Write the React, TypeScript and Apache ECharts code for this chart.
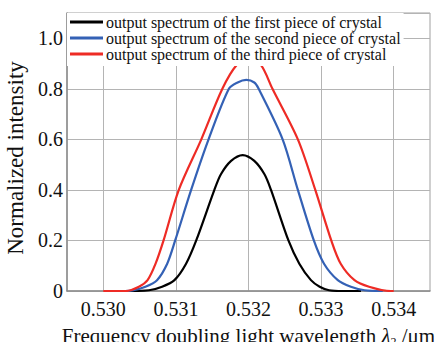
import React, { useEffect, useRef } from "react";
import * as echarts from "echarts";

const seriesNames = [
  "output spectrum of the first piece of crystal",
  "output spectrum of the second piece of crystal",
  "output spectrum of the third piece of crystal",
];

const xTicks = [0.53, 0.531, 0.532, 0.533, 0.534];

const firstX = [0.53035, 0.53063, 0.53081, 0.53098, 0.53114, 0.53128, 0.53153, 0.53162, 0.53176, 0.53192, 0.53208, 0.53222, 0.53231, 0.53255, 0.5327, 0.53286, 0.53298, 0.53311, 0.5333, 0.53355];
const firstY = [0, 0.003, 0.017, 0.043, 0.108, 0.2, 0.4, 0.462, 0.515, 0.538, 0.515, 0.462, 0.4, 0.2, 0.108, 0.043, 0.017, 0.003, 0, 0];

const secondX = [0.5303, 0.5304, 0.53058, 0.53074, 0.53088, 0.53099, 0.53121, 0.53145, 0.53173, 0.53185, 0.53197, 0.53208, 0.53214, 0.53247, 0.53268, 0.5329, 0.53304, 0.53323, 0.53341, 0.5336, 0.53385];
const secondY = [0, 0.002, 0.017, 0.043, 0.108, 0.2, 0.4, 0.6, 0.8, 0.825, 0.835, 0.825, 0.8, 0.6, 0.4, 0.2, 0.108, 0.043, 0.017, 0.003, 0];

const thirdX = [0.53, 0.53031, 0.53049, 0.53061, 0.53072, 0.53083, 0.53104, 0.53135, 0.53164, 0.53184, 0.532, 0.53217, 0.53233, 0.53268, 0.53292, 0.53314, 0.53327, 0.53346, 0.53366, 0.53396, 0.534];
const thirdY = [0, 0, 0.017, 0.043, 0.108, 0.2, 0.4, 0.6, 0.8, 0.895, 0.92, 0.895, 0.8, 0.6, 0.4, 0.2, 0.108, 0.043, 0.017, 0, 0];

const colors = ["#000000", "#3461b5", "#ee2b25"];

const pair = (xs: number[], ys: number[]) => xs.map((x, i) => [x, ys[i]]);

export default function App() {
  const ref = useRef<HTMLDivElement>(null);
  useEffect(() => {
    if (!ref.current) return;
    const chart = echarts.init(ref.current, undefined, { renderer: "svg" });
    const font = "Liberation Serif";
    const datasets = [pair(firstX, firstY), pair(secondX, secondY), pair(thirdX, thirdY)];
    chart.setOption({
      animation: false,
      backgroundColor: "#ffffff",
      textStyle: { fontFamily: font, color: "#111" },
      grid: {
        left: 67,
        right: 17,
        top: 13,
        bottom: 51,
        outerBoundsMode: "none",
        containLabel: false,
        show: true,
        borderColor: "#a0a0a0",
        borderWidth: 1,
      },
      legend: {
        show: true,
        z: 10,
        orient: "vertical",
        left: 67,
        top: 13,
        padding: [1, 3, 4, 3],
        itemGap: 0,
        itemWidth: 33,
        itemHeight: 3,
        icon: "rect",
        backgroundColor: "#ffffff",
        textStyle: {
          fontFamily: font,
          fontSize: 16,
          color: "#111",
          lineHeight: 15,
          padding: [0, 0, 0, -2],
        },
        data: seriesNames,
      },
      xAxis: {
        type: "value",
        min: 0.5295,
        max: 0.5345,
        axisLine: { show: true, lineStyle: { color: "#8c8c8c", width: 1.5 } },
        axisTick: { show: false, customValues: xTicks },
        axisLabel: {
          customValues: xTicks,
          formatter: (v: number) => v.toFixed(3),
          fontFamily: font,
          fontSize: 20,
          color: "#111",
          margin: 8,
        },
        splitLine: { show: true, lineStyle: { color: "#b4b4b4", width: 1 } },
        name: "Frequency doubling light wavelength {l|λ}{s|2} /μm",
        nameLocation: "middle",
        nameGap: 24,
        nameTextStyle: {
          fontFamily: font,
          fontSize: 21,
          lineHeight: 24,
          color: "#111",
          rich: {
            l: { fontFamily: font, fontSize: 21, lineHeight: 24, fontStyle: "italic", color: "#111" },
            s: { fontFamily: font, fontSize: 12, lineHeight: 24, color: "#111", verticalAlign: "bottom" },
          },
        },
      },
      yAxis: {
        type: "value",
        min: 0,
        max: 1.1,
        interval: 0.2,
        axisLine: { show: true, lineStyle: { color: "#8c8c8c", width: 1.5 } },
        axisTick: { show: false },
        axisLabel: {
          showMaxLabel: false,
          formatter: (v: number) => (v === 0 ? "0" : v.toFixed(1)),
          fontFamily: font,
          fontSize: 20,
          color: "#111",
          margin: 4,
        },
        splitLine: { show: true, lineStyle: { color: "#b4b4b4", width: 1 } },
        name: "Normalized intensity",
        nameLocation: "middle",
        nameGap: 38,
        nameTextStyle: { fontFamily: font, fontSize: 23, color: "#111", padding: [0, 12, 0, 0] },
      },
      series: seriesNames.map((name, i) => ({
        name,
        type: "line",
        data: datasets[i],
        showSymbol: false,
        symbol: "none",
        smooth: 0.3,
        lineStyle: { color: colors[i], width: 2.2 },
        itemStyle: { color: colors[i] },
        z: 2,
      })),
    });
    return () => chart.dispose();
  }, []);
  return (
    <div
      ref={ref}
      style={{ position: "absolute", left: 0, top: 0, width: 447, height: 342 }}
    />
  );
}
